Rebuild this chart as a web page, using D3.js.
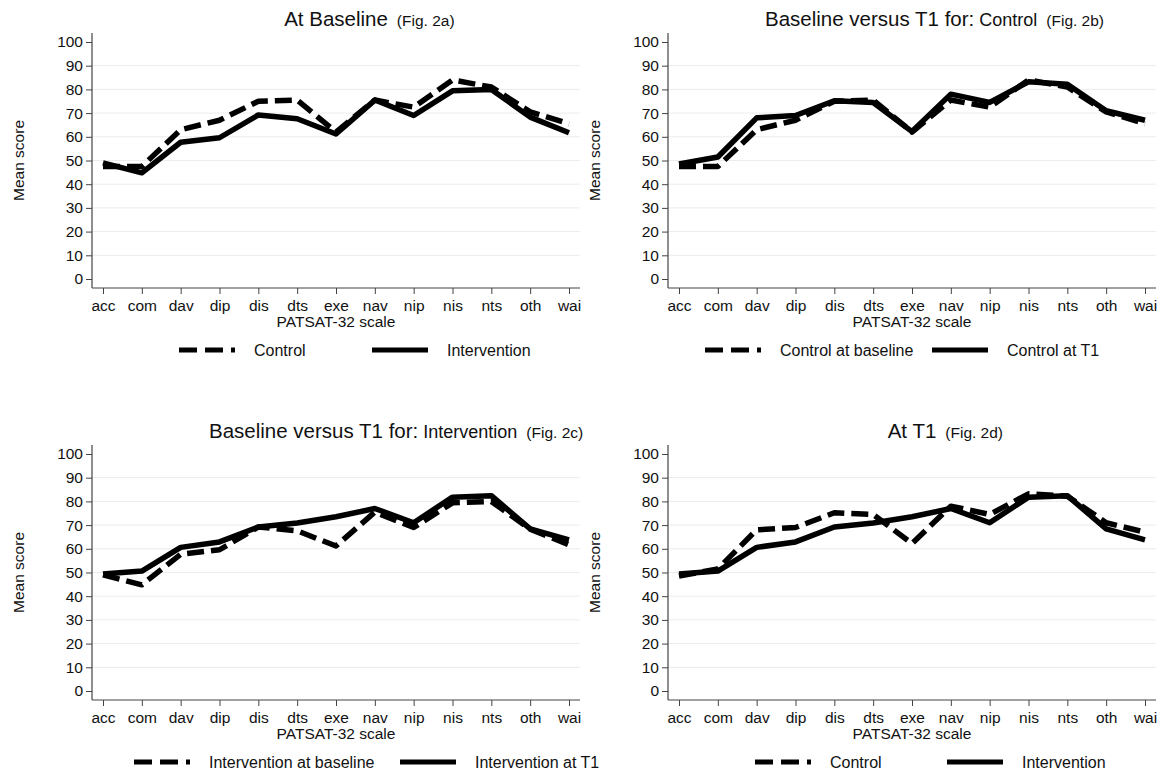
<!DOCTYPE html>
<html>
<head>
<meta charset="utf-8">
<script src="https://cdn.jsdelivr.net/npm/d3@7"></script>
<style>
  body { margin: 0; background: #fff; }
  svg { font-family: "Liberation Sans", Arial, sans-serif; }
</style>
</head>
<body>
<svg id="chart" width="1167" height="774"></svg>
<script>
// PATSAT-32 scales (x categories)
var scales = ["acc", "com", "dav", "dip", "dis", "dts", "exe", "nav", "nip", "nis", "nts", "oth", "wai"];

// mean scores
var controlBaseline      = [47.5, 47.5, 63, 67, 75, 75.5, 62, 75.5, 72.5, 84, 81, 70.5, 65.5];
var interventionBaseline = [49, 44.8, 57.7, 59.6, 69.2, 67.6, 61.2, 75.5, 69, 79.4, 80, 68.3, 61.7];
var controlT1            = [48.5, 51.5, 68, 69, 75.2, 74.5, 62.2, 78, 74.5, 83.2, 82.2, 71, 67];
var interventionT1       = [49.4, 50.6, 60.6, 62.9, 69.2, 70.9, 73.5, 77, 71, 81.8, 82.4, 68.4, 63.8];

var yTicks = [0, 10, 20, 30, 40, 50, 60, 70, 80, 90, 100];

// titleX: null = centre the main title on the plot; legend: start x and column pitch
var panels = [
  { ox: 0,   oy: 0,   title: ["At Baseline", "", "(Fig. 2a)"], titleX: null,
    series: [controlBaseline, interventionBaseline], legend: ["Control", "Intervention"], lx: 179, lp: 193 },
  { ox: 576, oy: 0,   title: ["Baseline versus T1 for:", "Control", "(Fig. 2b)"], titleX: 189,
    series: [controlBaseline, controlT1], legend: ["Control at baseline", "Control at T1"], lx: 129, lp: 227 },
  { ox: 0,   oy: 412, title: ["Baseline versus T1 for:", "Intervention", "(Fig. 2c)"], titleX: 209,
    series: [interventionBaseline, interventionT1], legend: ["Intervention at baseline", "Intervention at T1"], lx: 134, lp: 266 },
  { ox: 576, oy: 412, title: ["At T1", "", "(Fig. 2d)"], titleX: null,
    series: [controlT1, interventionT1], legend: ["Control", "Intervention"], lx: 179, lp: 192 }
];

const L = 92, R = 580, axisY = 288, axisTop = 33;
const dash = "17,7";
const svg = d3.select("#chart");

const x = d3.scalePoint().domain(scales).range([103, 569]);
const y = d3.scaleLinear().domain([0, 100]).range([279, 42]);

const line = d3.line()
  .x(function (d, i) { return x(scales[i]); })
  .y(function (d) { return y(d); });

panels.forEach(function (p) {
  var g = svg.append("g").attr("transform", "translate(" + p.ox + "," + p.oy + ")");

  // grid
  g.selectAll("line.grid")
    .data(yTicks.filter(function (t) { return t > 0 && t < 100; }))
    .enter().append("line")
    .attr("x1", L).attr("x2", R)
    .attr("y1", function (d) { return y(d); })
    .attr("y2", function (d) { return y(d); })
    .attr("stroke", "#ececec").attr("stroke-width", 1);

  // y axis
  var yAxis = g.append("g").attr("transform", "translate(" + L + ",0)")
    .call(d3.axisLeft(y).tickValues(yTicks).tickSize(6).tickPadding(3));
  yAxis.select(".domain").remove();
  g.append("line").attr("x1", L).attr("x2", L).attr("y1", axisTop).attr("y2", axisY)
    .attr("stroke", "#444").attr("stroke-width", 1.2);

  // x axis
  var xAxis = g.append("g").attr("transform", "translate(0," + axisY + ")")
    .call(d3.axisBottom(x).tickSize(6).tickPadding(6));
  xAxis.select(".domain").remove();
  g.append("line").attr("x1", L).attr("x2", R).attr("y1", axisY).attr("y2", axisY)
    .attr("stroke", "#444").attr("stroke-width", 1.2);

  g.selectAll(".tick line").attr("stroke", "#444");
  g.selectAll(".tick text").attr("fill", "#111").style("font-size", "15.5px")
    .style("font-family", "'Liberation Sans', Arial, sans-serif");

  g.append("text").attr("x", (L + R) / 2).attr("y", 327)
    .attr("text-anchor", "middle").style("font-size", "15.5px").attr("fill", "#111")
    .text("PATSAT-32 scale");
  g.append("text").attr("transform", "translate(24," + (y(50)) + ") rotate(-90)")
    .attr("text-anchor", "middle").style("font-size", "15.5px").attr("fill", "#111")
    .text("Mean score");

  // title
  var t = g.append("text").attr("y", 26).attr("fill", "#111");
  t.append("tspan").style("font-size", "20.5px").text(p.title[0]);
  var mainW = t.node().getComputedTextLength();
  if (p.title[1]) t.append("tspan").attr("dx", 5).style("font-size", "18px").text(p.title[1]);
  t.append("tspan").attr("dx", 9).style("font-size", "15.5px").text(p.title[2]);
  t.attr("x", p.titleX === null ? (L + R) / 2 - mainW / 2 : p.titleX);

  // lines: dashed first, solid on top
  p.series.forEach(function (s, i) {
    g.append("path").datum(s)
      .attr("d", line)
      .attr("fill", "none").attr("stroke", "#000").attr("stroke-width", 5.5)
      .attr("stroke-linejoin", "round")
      .attr("stroke-dasharray", i === 0 ? dash : null);
  });

  // legend
  var items = g.append("g").attr("transform", "translate(0,350)")
    .selectAll("g").data(p.legend).enter().append("g")
    .attr("transform", function (d, i) { return "translate(" + (p.lx + i * p.lp) + ",0)"; });
  items.append("line").attr("x1", 0).attr("x2", 56).attr("y1", 0).attr("y2", 0)
    .attr("stroke", "#000").attr("stroke-width", 5)
    .attr("stroke-dasharray", function (d, i) { return i === 0 ? "18,8" : null; });
  items.append("text").attr("x", 75).attr("y", 6).style("font-size", "16px").attr("fill", "#111")
    .text(function (d) { return d; });
});
</script>
</body>
</html>
